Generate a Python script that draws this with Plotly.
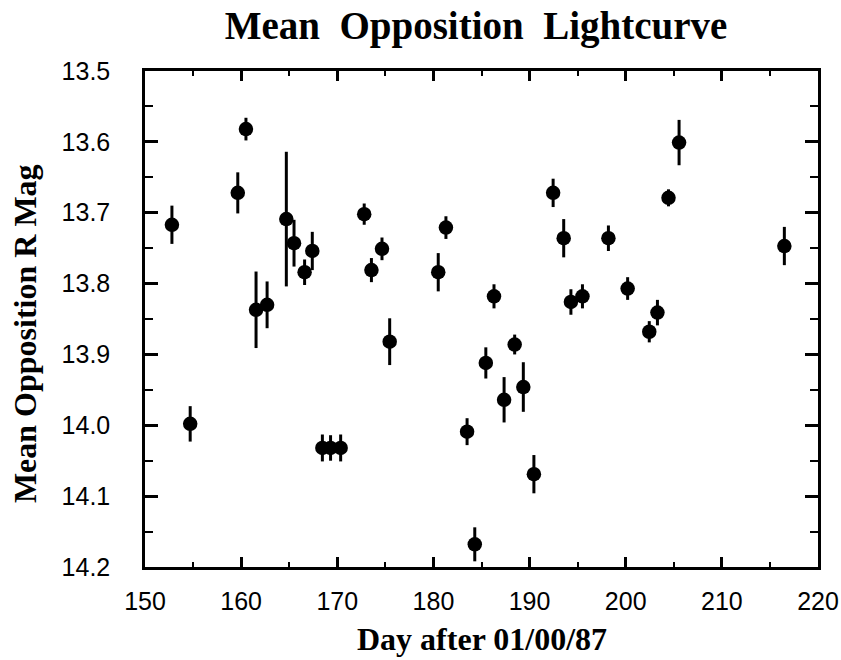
import plotly.graph_objects as go

# Mean opposition R magnitudes versus day number (1987)
days = [152.8, 154.7, 159.65, 160.5, 161.55, 162.7, 164.7, 165.5, 166.6, 167.4,
        168.45, 169.3, 170.35, 172.8, 173.55, 174.65, 175.45, 180.5, 181.3, 183.5,
        184.3, 185.45, 186.3, 187.35, 188.45, 189.35, 190.45, 192.45, 193.55, 194.3,
        195.5, 198.2, 200.2, 202.45, 203.3, 204.45, 205.55, 216.5]
mags = [13.717, 13.998, 13.672, 13.582, 13.837, 13.830, 13.709, 13.743, 13.784, 13.754,
        14.032, 14.032, 14.032, 13.702, 13.781, 13.751, 13.882, 13.784, 13.721, 14.009,
        14.168, 13.912, 13.818, 13.964, 13.886, 13.946, 14.069, 13.672, 13.736, 13.826,
        13.818, 13.736, 13.807, 13.868, 13.841, 13.679, 13.601, 13.747]
errs = [0.027, 0.025, 0.029, 0.016, 0.054, 0.033, 0.095, 0.033, 0.018, 0.027,
        0.019, 0.018, 0.019, 0.015, 0.017, 0.016, 0.033, 0.027, 0.016, 0.019,
        0.024, 0.022, 0.017, 0.032, 0.014, 0.035, 0.027, 0.020, 0.027, 0.018,
        0.017, 0.018, 0.016, 0.015, 0.018, 0.012, 0.032, 0.027]

title_text = "Mean  Opposition  Lightcurve"
x_title = "Day after 01/00/87"
y_title = "Mean Opposition R Mag"

SERIF = "Liberation Serif, Times New Roman, serif"
SANS = "Liberation Sans, Arial, sans-serif"

fig = go.Figure(go.Scatter(
    x=days, y=mags, mode="markers",
    marker=dict(color="black", size=14.5, line=dict(width=0)),
    error_y=dict(type="data", array=errs, visible=True, color="black",
                 thickness=3, width=0),
    showlegend=False,
))

axis_common = dict(
    showgrid=False, zeroline=False, showline=True, linecolor="black", linewidth=2.5,
    mirror="ticks", ticks="inside", tickwidth=2.5, tickcolor="black",
    tickfont=dict(family=SANS, size=25, color="black"), automargin=False,
)

fig.update_xaxes(
    range=[150, 220], dtick=10, tick0=150, ticklen=10, ticklabelstandoff=10,
    minor=dict(dtick=5, ticks="inside", ticklen=5, tickwidth=2, tickcolor="black"),
    **axis_common,
)
fig.update_yaxes(
    range=[14.2, 13.5], dtick=0.1, tick0=13.5, tickformat=".1f",
    ticklen=13, ticklabelstandoff=27,
    minor=dict(dtick=0.05, ticks="inside", ticklen=8, tickwidth=2, tickcolor="black"),
    **axis_common,
)

title_font = dict(family=SERIF, size=32, color="black", weight="bold")
fig.add_annotation(text=x_title, xref="paper", yref="paper", x=0.5, y=-0.146,
                   xanchor="center", yanchor="middle", showarrow=False,
                   font=title_font)
fig.add_annotation(text=y_title, xref="paper", yref="paper", x=-0.178, y=0.47,
                   xanchor="center", yanchor="middle", textangle=-90,
                   showarrow=False, font=title_font)

fig.update_layout(
    width=841, height=660,
    margin=dict(l=145, r=23, t=71, b=93, autoexpand=False),
    paper_bgcolor="white", plot_bgcolor="white",
    title=dict(text=title_text, x=0.566, xanchor="center",
               xref="container", yref="container", y=0.962, yanchor="middle",
               font=dict(family=SERIF, size=39, color="black", weight="bold")),
)

fig.write_html("out.html")
